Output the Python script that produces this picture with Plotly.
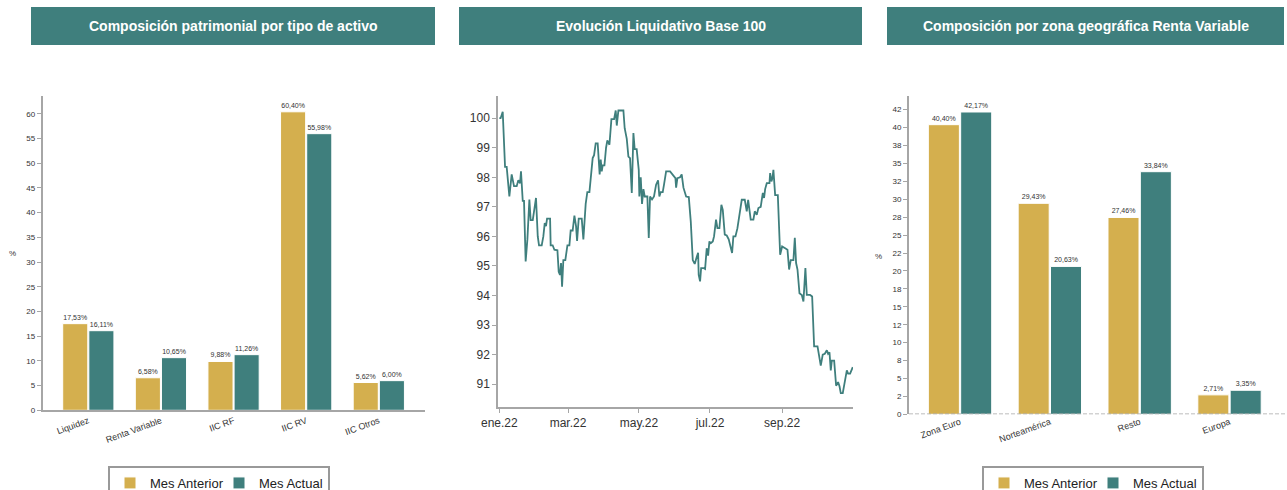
import plotly.graph_objects as go
import pandas as pd

GOLD = "#D4AF4E"
TEAL = "#3F7F7D"
AXIS = "#A6A6A6"
FONT = "Liberation Sans, Arial, sans-serif"

# ---- Data: Composición patrimonial por tipo de activo ----
asset_categories = ["Liquidez", "Renta Variable", "IIC RF", "IIC RV", "IIC Otros"]
asset_prev = [17.53, 6.58, 9.88, 60.40, 5.62]
asset_curr = [16.11, 10.65, 11.26, 55.98, 6.00]
asset_yticks = [0, 5, 10, 15, 20, 25, 30, 35, 40, 45, 50, 55, 60]

# ---- Data: Composición por zona geográfica Renta Variable ----
geo_categories = ["Zona Euro", "Norteamérica", "Resto", "Europa"]
geo_prev = [40.40, 29.43, 27.46, 2.71]
geo_curr = [42.17, 20.63, 33.84, 3.35]
geo_tickvals = [0, 2.5, 5, 7.5, 10, 12.5, 15, 17.5, 20, 22.5, 25, 27.5, 30, 32.5, 35, 37.5, 40, 42.5]
geo_ticktext = ["0", "2", "5", "8", "10", "12", "15", "18", "20", "22", "25", "28", "30", "32", "35", "38", "40", "42"]

# ---- Data: Evolución Liquidativo Base 100 (days since 2022-01-01, value) ----
nav_days = [0, 1.1, 2.9, 4.9, 6.3, 8.6, 10.6, 12.6, 14.9, 16.3,
            17.8, 18.6, 20.1, 21.2, 22.6, 24.1, 25.8, 26.9, 28.7, 30.1,
            31.5, 33, 34.1, 36.4, 37.8, 39, 40.1, 41, 43.6, 44.1,
            45.8, 47.3, 49.9, 51, 52.1, 53, 53.9, 55, 56.7, 58.5,
            60.2, 61.3, 63, 64.5, 65.9, 66.8, 68.2, 70.8, 72.2, 74.2,
            75.6, 77.4, 80.2, 81.4, 82.8, 84.5, 86.2, 87.1, 88, 88.8,
            90.3, 91.7, 92.8, 94.6, 96.3, 98.6, 100, 100.9, 102.3, 104,
            106.6, 107.7, 109.5, 110.9, 112.3, 113.8, 115.2, 116.3, 118, 119.8,
            120.3, 121.5, 122.6, 123.8, 124.9, 127.2, 128.4, 129.5, 131.2, 132.9,
            134.7, 136.4, 137.5, 138.7, 140.4, 141.5, 143.3, 146.7, 149, 151.3,
            151.9, 153, 155.3, 156.7, 158.2, 160.5, 162.8, 164.5, 166.2, 167.9,
            169.6, 170.8, 171.3, 172.5, 173.4, 175.4, 176.8, 178.2, 179.4, 180.5,
            181.7, 183.4, 184.5, 186.2, 187.4, 189.1, 190.8, 192, 193.7, 195.4,
            197.1, 198.9, 200, 201.1, 202.9, 204.6, 206.3, 208.3, 210.9, 212.6,
            213.8, 214.9, 216, 218.3, 219.5, 221.2, 222.6, 224.6, 226.4, 227.5,
            228.4, 229.8, 232.1, 232.7, 233.8, 234.7, 235.5, 237, 239.3, 241.3,
            243, 245.6, 247.6, 249, 250.4, 252.7, 253.9, 255, 256.2, 257.9,
            259.9, 261.3, 263, 264.2, 267, 268.8, 270.5, 273.4, 276.2, 277.9,
            279.7, 281.4, 282.5, 283.7, 284.8, 285.7, 287.7, 289.4, 291.1, 292.3,
            293.4, 295.1, 297.1, 298.6, 299.7, 301.4, 303.7]
nav_values = [100.0, 100.0, 100.22, 98.35, 98.35, 97.35, 98.1, 97.7, 97.7, 97.9,
              97.8, 98.2, 97.2, 97.2, 95.15, 95.9, 97.25, 96.55, 96.55, 96.9,
              97.3, 96.0, 95.7, 95.7, 96.0, 96.45, 96.35, 96.6, 96.6, 95.7,
              95.7, 95.55, 95.53, 94.8, 94.7, 95.1, 94.3, 95.2, 95.2, 95.7,
              95.7, 96.2, 96.2, 96.7, 96.35, 95.85, 96.6, 96.6, 95.9, 97.1,
              97.5, 97.5, 98.65, 98.75, 99.15, 99.15, 98.1, 98.6, 98.2, 98.4,
              98.4, 99.0, 99.25, 99.1, 99.97, 99.97, 100.26, 99.75, 100.26, 100.26,
              100.26, 99.66, 99.3, 98.7, 98.65, 97.47, 99.5, 98.95, 98.95, 98.25,
              97.35, 98.0, 97.1, 97.6, 97.35, 97.35, 95.95, 97.35, 97.25, 97.35,
              97.75, 97.9, 97.35, 97.5, 97.5, 97.75, 98.2, 98.2, 98.1, 97.97,
              97.65, 97.97, 98.0, 98.1, 97.65, 97.35, 97.33, 96.5, 95.2, 95.07,
              95.3, 95.45, 94.7, 94.48, 94.93, 94.93, 94.9, 95.6, 95.35, 95.83,
              95.77, 95.83, 96.0, 96.57, 96.28, 96.28, 97.07, 96.9, 96.06, 96.03,
              95.9, 95.6, 95.44, 96.0, 96.0, 96.28, 96.73, 97.24, 97.24, 96.85,
              97.24, 96.85, 96.57, 96.57, 96.85, 96.73, 96.96, 97.0, 97.47, 97.3,
              97.6, 97.8, 97.8, 98.14, 97.86, 97.97, 98.25, 97.4, 97.4, 95.38,
              95.66, 95.6, 95.55, 94.88, 95.2, 95.2, 95.95, 95.1, 94.88, 94.08,
              94.02, 93.8, 94.93, 94.02, 94.02, 93.97, 92.28, 92.28, 91.63, 92.0,
              92.03, 92.15, 92.03, 92.08, 91.47, 91.8, 91.8, 90.95, 91.07, 90.93,
              90.7, 90.7, 91.18, 91.47, 91.36, 91.36, 91.58]
nav_tickvals = ["2022-01-01", "2022-03-01", "2022-05-01", "2022-07-01", "2022-09-01"]
nav_ticktext = ["ene.22", "mar.22", "may.22", "jul.22", "sep.22"]

base = pd.Timestamp("2022-01-01")
nav_dates = base + pd.to_timedelta(nav_days, unit="D")


def pct(vals):
    return [f"{v:.2f}%".replace(".", ",") for v in vals]


fig = go.Figure()

bar_common = dict(marker_line=dict(color="white", width=1), textposition="outside",
                  textfont=dict(size=7, color="#333"), cliponaxis=False)

fig.add_trace(go.Bar(x=asset_categories, y=asset_prev, name="Mes Anterior", text=pct(asset_prev),
                     marker_color=GOLD, xaxis="x", yaxis="y", legend="legend", **bar_common))
fig.add_trace(go.Bar(x=asset_categories, y=asset_curr, name="Mes Actual", text=pct(asset_curr),
                     marker_color=TEAL, xaxis="x", yaxis="y", legend="legend", **bar_common))

fig.add_trace(go.Scatter(x=nav_dates, y=nav_values, mode="lines", line=dict(color=TEAL, width=1.8),
                         xaxis="x2", yaxis="y2", showlegend=False))

fig.add_trace(go.Bar(x=geo_categories, y=geo_prev, name="Mes Anterior", text=pct(geo_prev),
                     marker_color=GOLD, xaxis="x3", yaxis="y3", legend="legend2", **bar_common))
fig.add_trace(go.Bar(x=geo_categories, y=geo_curr, name="Mes Actual", text=pct(geo_curr),
                     marker_color=TEAL, xaxis="x3", yaxis="y3", legend="legend2", **bar_common))

W, H = 1287, 490


def px(x):
    return x / W


def py(y):
    return 1 - y / H


def ax(size, **kw):
    d = dict(showgrid=False, zeroline=False, linecolor=AXIS, linewidth=2, automargin=False,
             tickcolor=AXIS, tickfont=dict(size=size, color="#333"))
    d.update(kw)
    return d


legend_common = dict(orientation="h", xanchor="left", yanchor="top",
                     bordercolor="#999", borderwidth=2, bgcolor="white", itemwidth=30,
                     entrywidth=64, entrywidthmode="pixels",
                     font=dict(size=13, color="#222"))

fig.update_layout(
    width=W, height=H, margin=dict(l=0, r=0, t=0, b=0, autoexpand=False),
    paper_bgcolor="white", plot_bgcolor="white",
    font=dict(family=FONT, color="#333"),
    barmode="group", bargap=0.28, bargroupgap=0.04,
    xaxis=ax(9, domain=[px(42.7), px(425)], anchor="y", type="category", range=[-0.628, 4.636],
             showline=True, ticks="", tickangle=-20),
    yaxis=ax(8, domain=[py(410.3), py(96)], anchor="x", range=[0, 63.6], tickvals=asset_yticks,
             showline=True, ticks="outside", ticklen=4),
    xaxis2=ax(12, domain=[px(498.3), px(853)], anchor="y2", type="date",
              range=[base - pd.Timedelta(days=0.9), base + pd.Timedelta(days=303.9)],
              tickvals=nav_tickvals, ticktext=nav_ticktext, showline=True, ticks="outside", ticklen=4),
    yaxis2=ax(12, domain=[py(406.7), py(96)], anchor="x2", range=[90.24, 100.75], dtick=1,
              showline=True, ticks="outside", ticklen=4),
    xaxis3=ax(9, domain=[px(909), 1.0], anchor="y3", type="category", range=[-0.568, 3.64],
              showline=False, ticks="", tickangle=-20),
    yaxis3=ax(8, domain=[py(414.3), py(96)], anchor="x3", range=[0, 44.4],
              tickvals=geo_tickvals, ticktext=geo_ticktext, showline=True, ticks="outside", ticklen=4),
    legend=dict(x=px(108), y=py(466), **legend_common),
    legend2=dict(x=px(982), y=py(466), **legend_common),
)

# Dashed baseline for the geographic chart
fig.add_shape(type="line", xref="x3 domain", yref="y3", x0=0, x1=1, y0=0, y1=0,
              line=dict(color=AXIS, width=1.5, dash="4px,2px"))

# Header boxes and titles
headers = [
    ("Composición patrimonial por tipo de activo", 31, 435),
    ("Evolución Liquidativo Base 100", 459, 862),
    ("Composición por zona geográfica Renta Variable", 887, 1284),
]
for text, x0, x1 in headers:
    fig.add_shape(type="rect", xref="paper", yref="paper", x0=px(x0), x1=px(x1), y0=py(45), y1=py(7),
                  fillcolor=TEAL, line=dict(width=0), layer="above")
    fig.add_annotation(xref="paper", yref="paper", x=px((x0 + x1) / 2), y=py(26), text=f"<b>{text}</b>",
                       showarrow=False, font=dict(size=14, color="white", family=FONT),
                       xanchor="center", yanchor="middle")

# "%" axis labels
fig.add_annotation(xref="paper", yref="paper", x=px(12), y=py(253), text="%", showarrow=False,
                   font=dict(size=8, color="#333"), xanchor="center", yanchor="middle")
fig.add_annotation(xref="paper", yref="paper", x=px(878), y=py(256), text="%", showarrow=False,
                   font=dict(size=8, color="#333"), xanchor="center", yanchor="middle")

fig.write_html("out.html", config={"displayModeBar": False},
               post_script="document.body.style.margin='0';document.body.style.overflow='hidden';")
